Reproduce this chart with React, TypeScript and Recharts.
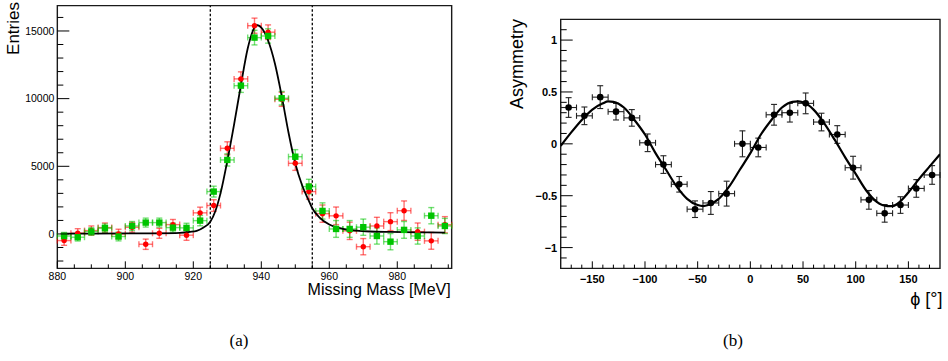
import React from 'react';
import { ComposedChart, Scatter, Line, XAxis, YAxis, ErrorBar, ReferenceLine, ReferenceArea } from 'recharts';

// ---------- Panel (a): missing mass ----------
const massBins = [882, 886, 890, 894, 898, 902, 906, 910, 914, 918, 922, 926, 930, 934, 938, 942, 946, 950, 954, 958, 962, 966, 970, 974, 978, 982, 986, 990, 994];
const redCounts = [-490, 60, 250, 470, 0, 490, -760, 50, 690, -90, 1560, 2100, 6330, 11460, 15390, 14910, 9950, 5220, 3130, 1500, 1340, 230, -940, 590, 910, 1720, 170, -510, 680];
const redErrors = [350, 330, 340, 340, 350, 360, 380, 370, 380, 380, 420, 430, 480, 520, 560, 540, 520, 520, 560, 640, 650, 640, 600, 640, 660, 720, 640, 620, 600];
const greenCounts = [-150, -240, 180, 430, -190, 590, 840, 840, 470, 450, 985, 3130, 5470, 10960, 14510, 14630, 10030, 5710, 3500, 1700, 370, 370, 500, -150, -570, 300, -150, 1350, 590];
const greenErrors = [260, 280, 280, 300, 320, 330, 330, 330, 330, 340, 380, 400, 450, 500, 540, 530, 500, 520, 540, 600, 620, 620, 600, 600, 600, 620, 600, 600, 560];
const massHalfBin = 2;
const fitMass = [881, 890, 900, 910, 916, 919, 921, 923, 925, 926.5, 928, 930, 932, 934, 936, 937.5, 938.6, 940, 942, 944, 946, 948, 950, 952, 954, 955, 957, 960, 964, 968, 972, 978, 986, 994];
const fitCounts = [20, 30, 40, 50, 80, 150, 230, 480, 900, 1700, 3000, 5400, 8100, 11000, 13700, 15000, 15440, 15250, 14300, 12600, 10200, 7500, 5200, 3600, 2450, 1900, 1250, 700, 380, 240, 180, 150, 120, 100];
const cutLow = 925;
const cutHigh = 955;
const massDomain = [880, 996];
const countDomain = [-2540, 16870];
const massTicks = [880, 885, 890, 895, 900, 905, 910, 915, 920, 925, 930, 935, 940, 945, 950, 955, 960, 965, 970, 975, 980, 985, 990, 995];
const massMajorTicks = [880, 900, 920, 940, 960, 980];
const countTicks = [-2000, -1000, 0, 1000, 2000, 3000, 4000, 5000, 6000, 7000, 8000, 9000, 10000, 11000, 12000, 13000, 14000, 15000, 16000];
const countMajorTicks = [0, 5000, 10000, 15000];

// ---------- Panel (b): asymmetry ----------
const phiBins = [-172.5, -157.5, -142.5, -127.5, -112.5, -97.5, -82.5, -67.5, -52.5, -37.5, -22.5, -7.5, 7.5, 22.5, 37.5, 52.5, 67.5, 82.5, 97.5, 112.5, 127.5, 142.5, 157.5, 172.5];
const asymValues = [0.35, 0.27, 0.45, 0.31, 0.25, 0.01, -0.2, -0.39, -0.63, -0.57, -0.48, 0.0, -0.035, 0.28, 0.3, 0.39, 0.21, 0.09, -0.23, -0.54, -0.67, -0.59, -0.43, -0.3];
const asymErrors = [0.095, 0.085, 0.11, 0.08, 0.08, 0.085, 0.085, 0.075, 0.08, 0.11, 0.12, 0.125, 0.09, 0.1, 0.09, 0.1, 0.085, 0.085, 0.11, 0.09, 0.085, 0.08, 0.085, 0.09];
const phiHalfBin = 7.5;
const fitPhi = [-180, -170, -160, -150, -140, -135, -130, -120, -110, -100, -90, -80, -70, -60, -50, -45, -40, -30, -20, -10, 0, 10, 20, 30, 40, 45, 50, 60, 70, 80, 90, 100, 110, 120, 130, 135, 140, 150, 160, 170, 180];
const fitAsym = [-0.02, 0.11, 0.23, 0.33, 0.39, 0.41, 0.405, 0.35, 0.23, 0.09, -0.09, -0.25, -0.41, -0.53, -0.59, -0.6, -0.59, -0.53, -0.41, -0.25, -0.09, 0.09, 0.23, 0.35, 0.405, 0.41, 0.4, 0.33, 0.2, 0.04, -0.13, -0.29, -0.45, -0.56, -0.6, -0.6, -0.575, -0.47, -0.34, -0.22, -0.1];
const phiDomain = [-180, 180];
const asymDomain = [-1.2, 1.2];
const phiTicks = [-170, -160, -150, -140, -130, -120, -110, -100, -90, -80, -70, -60, -50, -40, -30, -20, -10, 0, 10, 20, 30, 40, 50, 60, 70, 80, 90, 100, 110, 120, 130, 140, 150, 160, 170];
const phiMajorTicks = [-150, -100, -50, 0, 50, 100, 150];
const asymTicks = [-1.1, -1.0, -0.9, -0.8, -0.7, -0.6, -0.5, -0.4, -0.3, -0.2, -0.1, 0, 0.1, 0.2, 0.3, 0.4, 0.5, 0.6, 0.7, 0.8, 0.9, 1.0, 1.1];
const asymMajorTicks = [-1, -0.5, 0, 0.5, 1];

const SANS = '"Liberation Sans", Arial, Helvetica, sans-serif';
const SERIF = '"Liberation Serif", "Times New Roman", serif';

const fmt = (v: number) => (v < 0 ? '\u2212' + String(Math.abs(v)) : String(v));
const isIn = (arr: number[], v: number) => arr.some((a) => Math.abs(a - v) < 1e-6);

const makeXTick = (majors: number[], majorLen: number, minorLen: number, fontSize: number, bold: boolean, labelDy: number) =>
  (props: any) => {
    const { x, y, payload } = props;
    const v = payload.value;
    const major = isIn(majors, v);
    return (
      <g>
        <line x1={x} x2={x} y1={y} y2={y - (major ? majorLen : minorLen)} stroke="#000" strokeWidth={1} />
        {major && (
          <text x={x} y={y + labelDy} textAnchor="middle" fontSize={fontSize} fontFamily={SANS} fontWeight={bold ? 700 : 400} fill="#000">
            {fmt(v)}
          </text>
        )}
      </g>
    );
  };

const makeYTick = (majors: number[], majorLen: number, minorLen: number, fontSize: number, bold: boolean, gap: number) =>
  (props: any) => {
    const { x, y, payload } = props;
    const v = payload.value;
    const major = isIn(majors, v);
    return (
      <g>
        <line x1={x} x2={x + (major ? majorLen : minorLen)} y1={y} y2={y} stroke="#000" strokeWidth={1} />
        {major && (
          <text x={x - gap} y={y + fontSize * 0.36} textAnchor="end" fontSize={fontSize} fontFamily={SANS} fontWeight={bold ? 700 : 400} fill="#000">
            {fmt(Math.round(v * 10) / 10)}
          </text>
        )}
      </g>
    );
  };

const redData = massBins.map((m, i) => ({ x: m, y: redCounts[i], ex: massHalfBin, ey: redErrors[i] }));
const greenData = massBins.map((m, i) => ({ x: m, y: greenCounts[i], ex: massHalfBin, ey: greenErrors[i] }));
const massFit = fitMass.map((m, i) => ({ x: m, y: fitCounts[i] }));
const asymData = phiBins.map((p, i) => ({ x: p, y: asymValues[i], ex: phiHalfBin, ey: asymErrors[i] }));
const asymFit = fitPhi.map((p, i) => ({ x: p, y: fitAsym[i] }));

const RedDot = (p: any) => <circle cx={p.cx} cy={p.cy} r={2.7} fill="#ff0000" />;
const GreenSquare = (p: any) => <rect x={p.cx - 3.2} y={p.cy - 3.2} width={6.4} height={6.4} fill="#00c400" />;
const BlackDot = (p: any) => <circle cx={p.cx} cy={p.cy} r={3.3} fill="#000" />;

export default function App() {
  return (
    <div style={{ position: 'absolute', left: 0, top: 0, width: 948, height: 361, background: '#fff' }}>
      <div style={{ position: 'absolute', left: 0, top: 0 }}>
        <ComposedChart width={470} height={361} margin={{ top: 5.67, right: 18.33, bottom: 62.67, left: 0 }}>
          <XAxis type="number" dataKey="x" domain={massDomain} allowDataOverflow ticks={massTicks} interval={0}
            tickSize={0} tickMargin={0} tickLine={false} axisLine={false} height={30}
            tick={makeXTick(massMajorTicks, 7, 4, 10.5, false, 11.7)} />
          <YAxis type="number" dataKey="y" domain={countDomain} allowDataOverflow ticks={countTicks} interval={0}
            tickSize={0} tickMargin={0} tickLine={false} axisLine={false} width={57.33}
            tick={makeYTick(countMajorTicks, 12, 6, 10.5, false, 3)} />
          <ReferenceArea x1={massDomain[0]} x2={massDomain[1]} y1={countDomain[0]} y2={countDomain[1]} fill="none" stroke="#1a1a1a" strokeWidth={1.4} fillOpacity={0} />
          <ReferenceLine x={cutLow} stroke="#000" strokeDasharray="2.5 2" strokeWidth={1.3} />
          <ReferenceLine x={cutHigh} stroke="#000" strokeDasharray="2.5 2" strokeWidth={1.3} />
          <Scatter data={redData} shape={RedDot} isAnimationActive={false}>
            <ErrorBar dataKey="ex" direction="x" width={3} stroke="rgba(255,0,0,0.55)" strokeWidth={1.4} />
            <ErrorBar dataKey="ey" direction="y" width={3} stroke="rgba(255,0,0,0.55)" strokeWidth={1.4} />
          </Scatter>
          <Scatter data={greenData} shape={GreenSquare} isAnimationActive={false}>
            <ErrorBar dataKey="ex" direction="x" width={3} stroke="rgba(0,196,0,0.55)" strokeWidth={1.4} />
            <ErrorBar dataKey="ey" direction="y" width={3} stroke="rgba(0,196,0,0.55)" strokeWidth={1.4} />
          </Scatter>
          <Line data={massFit} dataKey="y" type="monotone" stroke="#000" strokeWidth={1.8} dot={false} activeDot={false} isAnimationActive={false} />
        </ComposedChart>
      </div>
      <div style={{ position: 'absolute', left: 470, top: 0 }}>
        <ComposedChart width={478} height={361} margin={{ top: 19.33, right: 8, bottom: 62.67, left: 0 }}>
          <XAxis type="number" dataKey="x" domain={phiDomain} allowDataOverflow ticks={phiTicks} interval={0}
            tickSize={0} tickMargin={0} tickLine={false} axisLine={false} height={30}
            tick={makeXTick(phiMajorTicks, 7, 3.7, 11, true, 14.3)} />
          <YAxis type="number" dataKey="y" domain={asymDomain} allowDataOverflow ticks={asymTicks} interval={0}
            tickSize={0} tickMargin={0} tickLine={false} axisLine={false} width={90.7}
            tick={makeYTick(asymMajorTicks, 12, 6, 11, true, 3.5)} />
          <ReferenceArea x1={phiDomain[0]} x2={phiDomain[1]} y1={asymDomain[0]} y2={asymDomain[1]} fill="none" stroke="#1a1a1a" strokeWidth={1.4} fillOpacity={0} />
          <Scatter data={asymData} shape={BlackDot} isAnimationActive={false}>
            <ErrorBar dataKey="ex" direction="x" width={3} stroke="#222" strokeWidth={1.1} />
            <ErrorBar dataKey="ey" direction="y" width={3} stroke="#222" strokeWidth={1.1} />
          </Scatter>
          <Line data={asymFit} dataKey="y" type="monotone" stroke="#000" strokeWidth={2.2} dot={false} activeDot={false} isAnimationActive={false} />
        </ComposedChart>
      </div>
      <svg width={948} height={361} style={{ position: 'absolute', left: 0, top: 0, pointerEvents: 'none' }}>
        <text transform="translate(19.3,2) rotate(-90)" textAnchor="end" fontSize={17} fontFamily={SANS} fill="#000">Entries</text>
        <text x={450.7} y={294.5} textAnchor="end" fontSize={16} fontFamily={SANS} fill="#000">Missing Mass [MeV]</text>
        <text transform="translate(523,19) rotate(-90)" textAnchor="end" fontSize={18} fontFamily={SANS} fill="#000">Asymmetry</text>
        <text x={942.5} y={305} textAnchor="end" fontSize={18} fontFamily={SANS} fill="#000">{'\u03D5 [\u00B0]'}</text>
        <text x={239} y={346} textAnchor="middle" fontSize={17} fontFamily={SERIF} fill="#000">(a)</text>
        <text x={733} y={346} textAnchor="middle" fontSize={17} fontFamily={SERIF} fill="#000">(b)</text>
      </svg>
    </div>
  );
}
